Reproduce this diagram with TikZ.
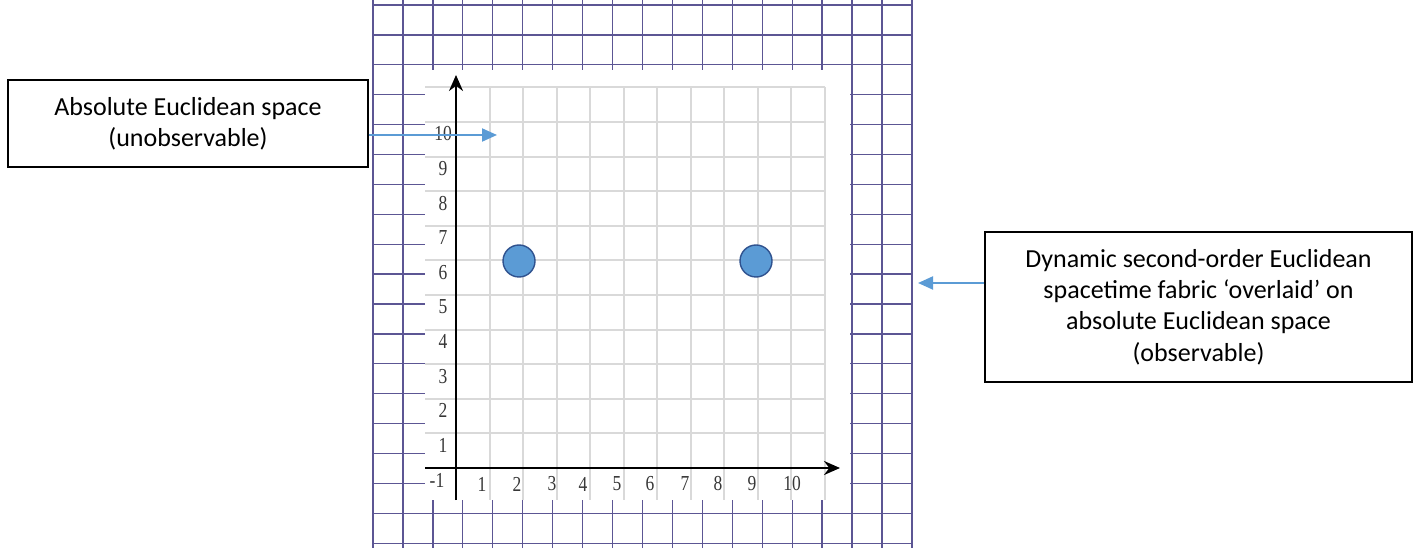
\documentclass[tikz,border=0pt]{standalone}
\usepackage{fontspec}
\setmainfont{Carlito}
\newfontfamily\numfont{Liberation Serif}
\usetikzlibrary{arrows.meta}
\definecolor{paperline}{RGB}{92,86,148}
\definecolor{gridgray}{RGB}{217,217,217}
\definecolor{dotfill}{RGB}{91,155,213}
\definecolor{dotedge}{RGB}{47,82,143}
\definecolor{numgray}{RGB}{55,55,55}
\tikzset{
  paper/.style={draw=paperline, line width=1pt},
  fine/.style={draw=gridgray, line width=1.5pt},
  axis/.style={draw=black, line width=1.65pt, -{Stealth[length=12pt,width=10.5pt]}},
  num/.style={font=\numfont\fontsize{16}{16}\selectfont, text=numgray, inner sep=0pt,
     xscale=0.82, transform shape},
  label box/.style={draw=black, line width=1.05pt, align=center, inner sep=0pt,
     font=\fontsize{19.5}{23.5}\selectfont},
  pointer/.style={draw=dotfill, line width=1.5pt, -{Triangle[length=11.25pt,width=9.75pt]}},
  dot/.style={circle, fill=dotfill, draw=dotedge, line width=1.05pt, minimum size=24pt, inner sep=0pt}
}
\begin{document}
\begin{tikzpicture}[x=0.75pt,y=-0.75pt]
\useasboundingbox (0,0) rectangle (1416,548);
% graph paper
\foreach \i in {0,...,18} {
  \draw[paper] ({373+29.94*\i},0) -- ({373+29.94*\i},548);
  \draw[paper] (373,{5+29.9*\i}) -- (912,{5+29.9*\i});
}
% white inner sheet
\fill[white] (425,70) rectangle (850,500);
% fine grid
\foreach \k in {1,...,11} {
  \draw[fine] ({456+33.5*\k},87) -- ({456+33.5*\k},500);
  \draw[fine] (425,{468-34.6*\k}) -- (825,{468-34.6*\k});
}
% axes
\coordinate (ybot) at (456,500);
\coordinate (ytop) at (456,75);
\coordinate (xleft) at (425,468);
\coordinate (xright) at (840,468);
\draw[axis] (ybot) -- (ytop);
\draw[axis] (xleft) -- (xright);
% y labels
\foreach \j in {1,...,10} {
  \node[num] (yl\j) at (443,{468-34.6*\j+12}) {\j};
}
\node[num] (ylm) at (437,480) {-1};
% x labels
\foreach \k/\xx in {1/482,2/517,3/552,4/583,5/617,6/650,7/685,8/718,9/752,10/792} {
  \node[num] (xl\k) at (\xx,484) {\k};
}
% dots
\node[dot] (p1) at (519,261) {};
\node[dot] (p2) at (756,261) {};
% boxes
\node[label box, minimum width=270pt, minimum height=65.25pt] (b1) at (188,123.5)
  {Absolute Euclidean space\\(unobservable)};
\node[label box, minimum width=320.25pt, minimum height=112.5pt] (b2) at (1198.5,307)
  {Dynamic second-order Euclidean\\spacetime fabric ‘overlaid’ on\\absolute Euclidean space\\(observable)};
% pointers
\coordinate (t1) at (497,135);
\coordinate (t2) at (918,283);
\draw[pointer] (b1.east |- t1) -- (t1);
\draw[pointer] (b2.west |- t2) -- (t2);
\end{tikzpicture}
\end{document}
